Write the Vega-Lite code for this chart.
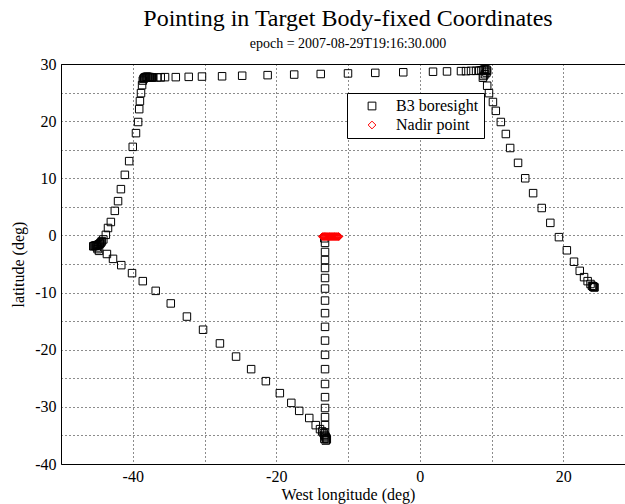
{
  "$schema": "https://vega.github.io/schema/vega-lite/v6.json",
  "width": 574,
  "height": 400,
  "autosize": {"type": "none"},
  "padding": {"left": 61, "top": 64, "right": 0, "bottom": 40},
  "background": "white",
  "title": {
    "text": "Pointing in Target Body-fixed Coordinates",
    "subtitle": "epoch = 2007-08-29T19:16:30.000",
    "font": "Liberation Serif",
    "fontSize": 24,
    "fontWeight": "normal",
    "color": "black",
    "subtitleFont": "Liberation Serif",
    "subtitleFontSize": 14,
    "subtitleColor": "black",
    "subtitlePadding": 6,
    "offset": 5,
    "anchor": "middle"
  },
  "config": {
    "view": {"stroke": "black", "strokeWidth": 1},
    "font": "Liberation Serif",
    "legend": {
      "orient": "none",
      "legendX": 286,
      "legendY": 29,
      "strokeColor": "black",
      "fillColor": "white",
      "padding": 5,
      "symbolOffset": 12,
      "labelOffset": 16,
      "labelFont": "Liberation Serif",
      "labelFontSize": 16,
      "labelColor": "black",
      "rowPadding": 3,
      "symbolSize": 60,
      "symbolStrokeWidth": 1,
      "symbolFillColor": "transparent"
    }
  },
  "data": {
    "values": [
      {"series": "B3 boresight", "lon": -45.5, "lat": -1.9},
      {"series": "B3 boresight", "lon": -45.4, "lat": -1.85},
      {"series": "B3 boresight", "lon": -45.3, "lat": -1.8},
      {"series": "B3 boresight", "lon": -45.2, "lat": -1.8},
      {"series": "B3 boresight", "lon": -45.1, "lat": -1.75},
      {"series": "B3 boresight", "lon": -45.0, "lat": -1.75},
      {"series": "B3 boresight", "lon": -44.9, "lat": -1.7},
      {"series": "B3 boresight", "lon": -44.8, "lat": -1.65},
      {"series": "B3 boresight", "lon": -44.7, "lat": -1.55},
      {"series": "B3 boresight", "lon": -44.6, "lat": -1.45},
      {"series": "B3 boresight", "lon": -44.5, "lat": -1.35},
      {"series": "B3 boresight", "lon": -44.4, "lat": -1.2},
      {"series": "B3 boresight", "lon": -44.3, "lat": -1.0},
      {"series": "B3 boresight", "lon": -45.0, "lat": -2.1},
      {"series": "B3 boresight", "lon": -44.9, "lat": -2.4},
      {"series": "B3 boresight", "lon": -44.1, "lat": -0.7},
      {"series": "B3 boresight", "lon": -43.75, "lat": 0.1},
      {"series": "B3 boresight", "lon": -43.45, "lat": 1.3},
      {"series": "B3 boresight", "lon": -43.05, "lat": 2.35},
      {"series": "B3 boresight", "lon": -42.5, "lat": 4.3},
      {"series": "B3 boresight", "lon": -42.05, "lat": 6.0},
      {"series": "B3 boresight", "lon": -41.65, "lat": 8.1},
      {"series": "B3 boresight", "lon": -41.1, "lat": 10.6},
      {"series": "B3 boresight", "lon": -40.5, "lat": 13.0},
      {"series": "B3 boresight", "lon": -40.0, "lat": 15.5},
      {"series": "B3 boresight", "lon": -39.55, "lat": 17.9},
      {"series": "B3 boresight", "lon": -39.25, "lat": 19.85},
      {"series": "B3 boresight", "lon": -39.1, "lat": 22.1},
      {"series": "B3 boresight", "lon": -39.0, "lat": 23.5},
      {"series": "B3 boresight", "lon": -38.85, "lat": 24.9},
      {"series": "B3 boresight", "lon": -38.7, "lat": 26.3},
      {"series": "B3 boresight", "lon": -38.6, "lat": 27.1},
      {"series": "B3 boresight", "lon": -38.5, "lat": 27.4},
      {"series": "B3 boresight", "lon": -38.4, "lat": 27.55},
      {"series": "B3 boresight", "lon": -38.3, "lat": 27.65},
      {"series": "B3 boresight", "lon": -38.2, "lat": 27.7},
      {"series": "B3 boresight", "lon": -38.1, "lat": 27.75},
      {"series": "B3 boresight", "lon": -38.0, "lat": 27.75},
      {"series": "B3 boresight", "lon": -37.9, "lat": 27.75},
      {"series": "B3 boresight", "lon": -37.8, "lat": 27.7},
      {"series": "B3 boresight", "lon": -37.7, "lat": 27.7},
      {"series": "B3 boresight", "lon": -37.6, "lat": 27.7},
      {"series": "B3 boresight", "lon": -37.5, "lat": 27.65},
      {"series": "B3 boresight", "lon": -37.35, "lat": 27.65},
      {"series": "B3 boresight", "lon": -37.2, "lat": 27.65},
      {"series": "B3 boresight", "lon": -36.6, "lat": 27.65},
      {"series": "B3 boresight", "lon": -36.1, "lat": 27.65},
      {"series": "B3 boresight", "lon": -35.5, "lat": 27.7},
      {"series": "B3 boresight", "lon": -34.0, "lat": 27.7},
      {"series": "B3 boresight", "lon": -32.2, "lat": 27.75},
      {"series": "B3 boresight", "lon": -30.35, "lat": 27.8},
      {"series": "B3 boresight", "lon": -27.55, "lat": 27.85},
      {"series": "B3 boresight", "lon": -24.75, "lat": 27.95},
      {"series": "B3 boresight", "lon": -21.2, "lat": 28.05},
      {"series": "B3 boresight", "lon": -17.5, "lat": 28.15},
      {"series": "B3 boresight", "lon": -13.8, "lat": 28.25},
      {"series": "B3 boresight", "lon": -10.0, "lat": 28.35},
      {"series": "B3 boresight", "lon": -6.2, "lat": 28.45},
      {"series": "B3 boresight", "lon": -2.3, "lat": 28.55},
      {"series": "B3 boresight", "lon": 1.85, "lat": 28.65},
      {"series": "B3 boresight", "lon": 3.8, "lat": 28.7},
      {"series": "B3 boresight", "lon": 5.75, "lat": 28.75},
      {"series": "B3 boresight", "lon": 6.45, "lat": 28.75},
      {"series": "B3 boresight", "lon": 7.15, "lat": 28.8},
      {"series": "B3 boresight", "lon": 7.85, "lat": 28.8},
      {"series": "B3 boresight", "lon": 8.3, "lat": 28.85},
      {"series": "B3 boresight", "lon": 8.6, "lat": 28.9},
      {"series": "B3 boresight", "lon": 8.9, "lat": 29.0},
      {"series": "B3 boresight", "lon": 9.1, "lat": 29.1},
      {"series": "B3 boresight", "lon": 9.3, "lat": 29.0},
      {"series": "B3 boresight", "lon": 9.4, "lat": 28.8},
      {"series": "B3 boresight", "lon": 9.3, "lat": 28.5},
      {"series": "B3 boresight", "lon": 9.1, "lat": 28.2},
      {"series": "B3 boresight", "lon": 8.9, "lat": 27.9},
      {"series": "B3 boresight", "lon": 8.8, "lat": 27.6},
      {"series": "B3 boresight", "lon": 9.4, "lat": 26.2},
      {"series": "B3 boresight", "lon": 9.65, "lat": 24.9},
      {"series": "B3 boresight", "lon": 10.2, "lat": 23.35},
      {"series": "B3 boresight", "lon": 10.6, "lat": 21.8},
      {"series": "B3 boresight", "lon": 11.3, "lat": 19.85},
      {"series": "B3 boresight", "lon": 12.0, "lat": 17.75},
      {"series": "B3 boresight", "lon": 12.6, "lat": 15.3},
      {"series": "B3 boresight", "lon": 13.7, "lat": 12.7},
      {"series": "B3 boresight", "lon": 14.7, "lat": 10.0},
      {"series": "B3 boresight", "lon": 15.8, "lat": 7.4},
      {"series": "B3 boresight", "lon": 17.0, "lat": 4.8},
      {"series": "B3 boresight", "lon": 18.2, "lat": 2.2},
      {"series": "B3 boresight", "lon": 19.4, "lat": -0.3},
      {"series": "B3 boresight", "lon": 20.5, "lat": -2.6},
      {"series": "B3 boresight", "lon": 21.5, "lat": -4.6},
      {"series": "B3 boresight", "lon": 22.3, "lat": -6.2},
      {"series": "B3 boresight", "lon": 22.9, "lat": -7.3},
      {"series": "B3 boresight", "lon": 23.4, "lat": -8.0},
      {"series": "B3 boresight", "lon": 23.8, "lat": -8.5},
      {"series": "B3 boresight", "lon": 24.0, "lat": -8.8},
      {"series": "B3 boresight", "lon": 24.1, "lat": -8.9},
      {"series": "B3 boresight", "lon": 24.2, "lat": -9.0},
      {"series": "B3 boresight", "lon": 24.3, "lat": -9.05},
      {"series": "B3 boresight", "lon": 24.35, "lat": -9.1},
      {"series": "B3 boresight", "lon": 24.2, "lat": -8.95},
      {"series": "B3 boresight", "lon": -44.7, "lat": -2.7},
      {"series": "B3 boresight", "lon": -43.6, "lat": -3.25},
      {"series": "B3 boresight", "lon": -42.75, "lat": -4.1},
      {"series": "B3 boresight", "lon": -41.6, "lat": -5.2},
      {"series": "B3 boresight", "lon": -40.1, "lat": -6.6},
      {"series": "B3 boresight", "lon": -38.6, "lat": -8.0},
      {"series": "B3 boresight", "lon": -36.8, "lat": -9.7},
      {"series": "B3 boresight", "lon": -34.7, "lat": -11.9},
      {"series": "B3 boresight", "lon": -32.45, "lat": -14.2},
      {"series": "B3 boresight", "lon": -30.2, "lat": -16.5},
      {"series": "B3 boresight", "lon": -27.85, "lat": -18.9},
      {"series": "B3 boresight", "lon": -25.6, "lat": -21.2},
      {"series": "B3 boresight", "lon": -23.5, "lat": -23.4},
      {"series": "B3 boresight", "lon": -21.45, "lat": -25.5},
      {"series": "B3 boresight", "lon": -19.5, "lat": -27.6},
      {"series": "B3 boresight", "lon": -17.9, "lat": -29.3},
      {"series": "B3 boresight", "lon": -16.8, "lat": -30.7},
      {"series": "B3 boresight", "lon": -15.4, "lat": -31.95},
      {"series": "B3 boresight", "lon": -14.5, "lat": -33.2},
      {"series": "B3 boresight", "lon": -13.9, "lat": -33.9},
      {"series": "B3 boresight", "lon": -13.6, "lat": -34.3},
      {"series": "B3 boresight", "lon": -13.4, "lat": -34.6},
      {"series": "B3 boresight", "lon": -13.3, "lat": -34.9},
      {"series": "B3 boresight", "lon": -13.2, "lat": -35.1},
      {"series": "B3 boresight", "lon": -13.1, "lat": -35.3},
      {"series": "B3 boresight", "lon": -13.0, "lat": -35.5},
      {"series": "B3 boresight", "lon": -12.95, "lat": -35.7},
      {"series": "B3 boresight", "lon": -13.1, "lat": -35.9},
      {"series": "B3 boresight", "lon": -13.3, "lat": -35.6},
      {"series": "B3 boresight", "lon": -13.2, "lat": -34.5},
      {"series": "B3 boresight", "lon": -13.2, "lat": -33.2},
      {"series": "B3 boresight", "lon": -13.2, "lat": -31.8},
      {"series": "B3 boresight", "lon": -13.2, "lat": -30.2},
      {"series": "B3 boresight", "lon": -13.2, "lat": -28.3},
      {"series": "B3 boresight", "lon": -13.2, "lat": -26.0},
      {"series": "B3 boresight", "lon": -13.2, "lat": -23.4},
      {"series": "B3 boresight", "lon": -13.2, "lat": -20.9},
      {"series": "B3 boresight", "lon": -13.2, "lat": -18.4},
      {"series": "B3 boresight", "lon": -13.2, "lat": -16.0},
      {"series": "B3 boresight", "lon": -13.2, "lat": -13.6},
      {"series": "B3 boresight", "lon": -13.2, "lat": -11.4},
      {"series": "B3 boresight", "lon": -13.2, "lat": -9.3},
      {"series": "B3 boresight", "lon": -13.2, "lat": -7.45},
      {"series": "B3 boresight", "lon": -13.2, "lat": -5.7},
      {"series": "B3 boresight", "lon": -13.2, "lat": -4.3},
      {"series": "B3 boresight", "lon": -13.2, "lat": -2.9},
      {"series": "B3 boresight", "lon": -13.2, "lat": -1.3},
      {"series": "B3 boresight", "lon": -13.3, "lat": -0.5},
      {"series": "Nadir point", "lon": -13.6, "lat": -0.2},
      {"series": "Nadir point", "lon": -13.52, "lat": -0.2},
      {"series": "Nadir point", "lon": -13.45, "lat": -0.2},
      {"series": "Nadir point", "lon": -13.37, "lat": -0.2},
      {"series": "Nadir point", "lon": -13.3, "lat": -0.2},
      {"series": "Nadir point", "lon": -13.22, "lat": -0.2},
      {"series": "Nadir point", "lon": -13.15, "lat": -0.2},
      {"series": "Nadir point", "lon": -13.07, "lat": -0.2},
      {"series": "Nadir point", "lon": -13.0, "lat": -0.2},
      {"series": "Nadir point", "lon": -12.92, "lat": -0.2},
      {"series": "Nadir point", "lon": -12.85, "lat": -0.2},
      {"series": "Nadir point", "lon": -12.77, "lat": -0.2},
      {"series": "Nadir point", "lon": -12.7, "lat": -0.2},
      {"series": "Nadir point", "lon": -12.62, "lat": -0.2},
      {"series": "Nadir point", "lon": -12.55, "lat": -0.2},
      {"series": "Nadir point", "lon": -12.47, "lat": -0.2},
      {"series": "Nadir point", "lon": -12.4, "lat": -0.2},
      {"series": "Nadir point", "lon": -12.32, "lat": -0.2},
      {"series": "Nadir point", "lon": -12.25, "lat": -0.2},
      {"series": "Nadir point", "lon": -12.17, "lat": -0.2},
      {"series": "Nadir point", "lon": -12.1, "lat": -0.2},
      {"series": "Nadir point", "lon": -12.02, "lat": -0.2},
      {"series": "Nadir point", "lon": -11.95, "lat": -0.2},
      {"series": "Nadir point", "lon": -11.87, "lat": -0.2},
      {"series": "Nadir point", "lon": -11.8, "lat": -0.2},
      {"series": "Nadir point", "lon": -11.72, "lat": -0.2},
      {"series": "Nadir point", "lon": -11.65, "lat": -0.2},
      {"series": "Nadir point", "lon": -11.57, "lat": -0.2},
      {"series": "Nadir point", "lon": -11.5, "lat": -0.2},
      {"series": "Nadir point", "lon": -11.42, "lat": -0.2},
      {"series": "Nadir point", "lon": -11.35, "lat": -0.2},
      {"series": "Nadir point", "lon": -11.3, "lat": -0.2},
      {"series": "Nadir point", "lon": -11.25, "lat": -0.2}
    ]
  },
  "mark": {"type": "point", "filled": false, "strokeWidth": 1, "size": 56, "opacity": 1},
  "encoding": {
    "x": {
      "field": "lon",
      "type": "quantitative",
      "title": "West longitude (deg)",
      "scale": {"domain": [-50, 30], "nice": false, "zero": false},
      "axis": {
        "values": [-50, -40, -30, -20, -10, 0, 10, 20, 30],
        "labelExpr": "datum.value % 20 == 0 ? '' + datum.value : ''",
        "grid": true,
        "gridColor": "black",
        "gridDash": [1, 3],
        "gridOpacity": 0.9,
        "ticks": false,
        "domain": false,
        "labelFont": "Liberation Serif",
        "labelFontSize": 16,
        "labelColor": "black",
        "labelPadding": 4,
        "labelFlush": false,
        "labelOverlap": false,
        "titleFont": "Liberation Serif",
        "titleFontSize": 16,
        "titleFontWeight": "normal",
        "titleColor": "black",
        "titlePadding": 2
      }
    },
    "y": {
      "field": "lat",
      "type": "quantitative",
      "title": "latitude (deg)",
      "scale": {"domain": [-40, 30], "nice": false, "zero": false},
      "axis": {
        "values": [-40, -35, -30, -25, -20, -15, -10, -5, 0, 5, 10, 15, 20, 25, 30],
        "labelExpr": "datum.value % 10 == 0 ? '' + datum.value : ''",
        "grid": true,
        "gridColor": "black",
        "gridDash": [1, 3],
        "gridOpacity": 0.9,
        "ticks": false,
        "domain": false,
        "labelFont": "Liberation Serif",
        "labelFontSize": 16,
        "labelColor": "black",
        "labelPadding": 5,
        "labelFlush": false,
        "labelOverlap": false,
        "titleFont": "Liberation Serif",
        "titleFontSize": 16,
        "titleFontWeight": "normal",
        "titleColor": "black",
        "titlePadding": 8
      }
    },
    "color": {
      "field": "series",
      "type": "nominal",
      "title": null,
      "scale": {"domain": ["B3 boresight", "Nadir point"], "range": ["black", "red"]}
    },
    "shape": {
      "field": "series",
      "type": "nominal",
      "title": null,
      "scale": {"domain": ["B3 boresight", "Nadir point"], "range": ["square", "diamond"]}
    }
  }
}
